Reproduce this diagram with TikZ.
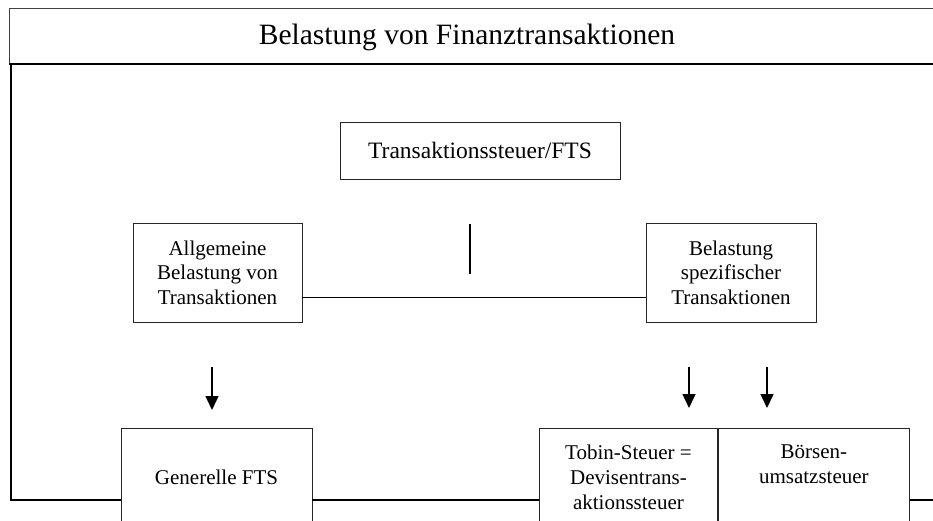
\documentclass[tikz,border=0pt]{standalone}
\usepackage{fontspec}
\setmainfont{Liberation Serif}
\usepackage{tikz}
\usetikzlibrary{arrows.meta, positioning, calc}

\begin{document}
\begin{tikzpicture}[x=1pt,y=-1pt,
    box/.style={draw=black!85, line width=0.9pt, align=center, inner sep=2pt,
        font=\fontsize{21}{24.5}\selectfont},
    boxtext/.style={anchor=north, align=center, yshift=-13.5pt,
        font=\fontsize{21}{25}\selectfont},
    conn/.style={line width=1.4pt},
    pfeil/.style={line width=1.5pt, -{Triangle[width=13pt,length=14pt]}}]
\useasboundingbox (0,0) rectangle (933,521);
\clip (0,0) rectangle (933,521);
% Rahmen
\draw[line width=1pt, draw=black!75] (9,64) -- (9,9) -- (945,9);
\draw[line width=1.4pt] (9,64) -- (945,64);
\node[font=\fontsize{29.5}{34}\selectfont] (titel) at (467,37) {Belastung von Finanztransaktionen};
\coordinate (ecke) at (11,64);
\coordinate (unten) at (11,500);
\coordinate (rechts) at (945,500);
% obere Ebene
\node[box, font=\fontsize{23.5}{27}\selectfont, minimum width=280pt, minimum height=57pt]
    (fts) at (480,150.5) {Transaktionssteuer/FTS};
\node[box, minimum width=169pt, minimum height=99pt] (allg) at (217.5,272.5)
    {Allgemeine\\Belastung von\\Transaktionen};
\node[box, minimum width=170pt, minimum height=99pt] (spez) at (731,272.5)
    {Belastung\\spezifischer\\Transaktionen};
\coordinate (strichA) at (470,224);
\coordinate (strichB) at (470,274);
\draw[conn] (strichA) -- (strichB);
\draw[conn] ($(allg.south east)!0.25!(allg.north east)$) -- ($(spez.south west)!0.25!(spez.north west)$);
% untere Ebene
\node[box, minimum width=191pt, minimum height=98pt] (gen) at (216.5,477) {Generelle FTS};
\node[box, minimum width=178pt, minimum height=110pt, anchor=north west,
    label={[boxtext]north:{Tobin-Steuer =\\Devisentrans-\\aktionssteuer}}]
    (tobin) at (539,428) {};
\node[box, minimum width=191pt, minimum height=110pt, anchor=north west,
    label={[boxtext]north:{B\"orsen-\\umsatzsteuer}}]
    (boers) at (tobin.north east) {};
% Pfeile
\coordinate (p1) at (212,367);
\coordinate (p2) at (689,367);
\coordinate (p3) at (767,367);
\draw[pfeil] (p1) -- ++(0,43);
\draw[pfeil] (p2) -- ++(0,41);
\draw[pfeil] (p3) -- ++(0,41);
% Linie unten
\draw[conn] (ecke) -- (unten) -- (unten -| gen.west);
\draw[conn] (gen.east |- unten) -- (unten -| tobin.west);
\draw[conn] (boers.east |- unten) -- (rechts);
\end{tikzpicture}
\end{document}
